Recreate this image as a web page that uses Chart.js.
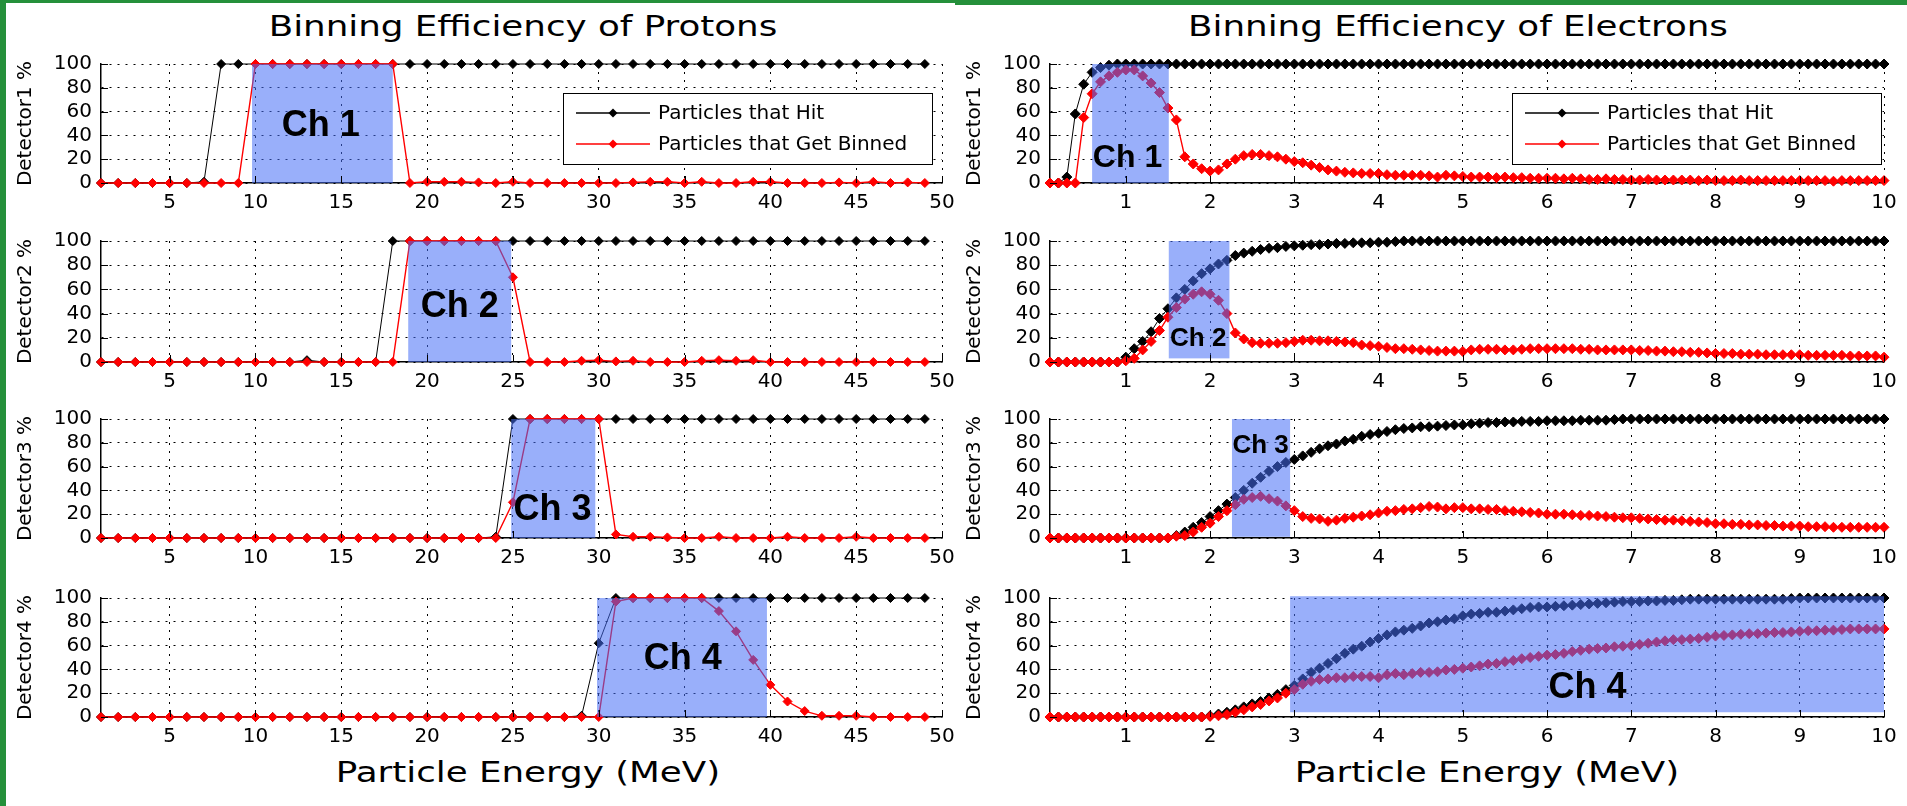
<!DOCTYPE html>
<html>
<head>
<meta charset="utf-8">
<script src="https://cdn.jsdelivr.net/npm/chart.js@4.4.1/dist/chart.umd.min.js"></script>
<style>
body { margin: 0; background: #fff; }
#page { position: relative; width: 1907px; height: 806px; overflow: hidden; background: #fff; font-family: "DejaVu Sans", sans-serif; }
.frame { position: absolute; background: #25903b; }
.big { position: absolute; width: 600px; font-size: 29px; line-height: 29px; white-space: nowrap; text-align: center; transform: scaleX(1.23); color: #000; }
canvas { position: absolute; }
</style>
</head>
<body>
<div id="page">
  <div class="frame" style="left:0;top:0;width:6px;height:806px"></div>
  <div class="frame" style="left:0;top:0;width:955px;height:3px"></div>
  <div class="frame" style="left:955px;top:0;width:952px;height:5px"></div>
  <div class="big" style="left:223px;top:12px">Binning Efficiency of Protons</div>
  <div class="big" style="left:1158px;top:12px">Binning Efficiency of Electrons</div>
  <div class="big" style="left:228px;top:758px">Particle Energy (MeV)</div>
  <div class="big" style="left:1187px;top:758px">Particle Energy (MeV)</div>
</div>
<script>
// proton energies (MeV)
const protonE = [1,2,3,4,5,6,7,8,9,10,11,12,13,14,15,16,17,18,19,20,21,22,23,24,25,
  26,27,28,29,30,31,32,33,34,35,36,37,38,39,40,41,42,43,44,45,46,47,48,49];
// electron energies (MeV)
const electronE = [0.1,0.2,0.3,0.4,0.5,0.6,0.7,0.8,0.9,1.0,1.1,1.2,1.3,1.4,1.5,1.6,1.7,1.8,1.9,2.0,
  2.1,2.2,2.3,2.4,2.5,2.6,2.7,2.8,2.9,3.0,3.1,3.2,3.3,3.4,3.5,3.6,3.7,3.8,3.9,4.0,
  4.1,4.2,4.3,4.4,4.5,4.6,4.7,4.8,4.9,5.0,5.1,5.2,5.3,5.4,5.5,5.6,5.7,5.8,5.9,6.0,
  6.1,6.2,6.3,6.4,6.5,6.6,6.7,6.8,6.9,7.0,7.1,7.2,7.3,7.4,7.5,7.6,7.7,7.8,7.9,8.0,
  8.1,8.2,8.3,8.4,8.5,8.6,8.7,8.8,8.9,9.0,9.1,9.2,9.3,9.4,9.5,9.6,9.7,9.8,9.9,10.0];

const protonTicks = [5,10,15,20,25,30,35,40,45,50];
const electronTicks = [1,2,3,4,5,6,7,8,9,10];
const percentTicks = [0,20,40,60,80,100];

// protons, % per detector
const p1Hit = [0,0,0,0,0,0,1,100,100,100,100,100,100,100,100,100,100,100,100,100,100,100,100,100,100,
  100,100,100,100,100,100,100,100,100,100,100,100,100,100,100,100,100,100,100,100,100,100,100,100];
const p1Binned = [0,0,0,0,0,0,0,0,0,100,100,100,100,100,100,100,100,100,0,1,1,1,0.5,0,1,
  0,0,0,0,0,0,0.5,1,1,0,1,0,0,1,1,0,0,0,0.5,0,1,0,0.5,0];
const p2Hit = [0,0,0,0,0,0,0,0,0,0,0,0,1.5,0,0,0,0,100,100,100,100,100,100,100,100,
  100,100,100,100,100,100,100,100,100,100,100,100,100,100,100,100,100,100,100,100,100,100,100,100];
const p2Binned = [0,0,0,0,0,0,0,0,0,0,0,0,0,0,0,0,0,0,100,100,100,100,100,100,70,
  0,0,0,1,1.5,0.5,1,0,0,0,1,1.5,1,1.5,0,0,0,0,0,0,0,0,0,0];
const p3Hit = [0,0,0,0,0,0,0,0,0,0,0,0,0,0,0,0,0,0,0,0,0,0,0,1,100,
  100,100,100,100,100,100,100,100,100,100,100,100,100,100,100,100,100,100,100,100,100,100,100,100];
const p3Binned = [0,0,0,0,0,0,0,0,0,0,0,0,0,0,0,0,0,0,0,0,0,0,0,0,30,
  100,100,100,100,100,3,1,1,0.5,0,0,1,0,0,0,1,0,0,0,1,0,0,0,0];
const p4Hit = [0,0,0,0,0,0,0,0,0,0,0,0,0,0,0,0,0,0,0,0,0,0,0,0,0,
  0,0,0,1,62,100,100,100,100,100,100,100,100,100,100,100,100,100,100,100,100,100,100,100];
const p4Binned = [0,0,0,0,0,0,0,0,0,0,0,0,0,0,0,0,0,0,0,0,0,0,0,0,0,
  0,0,0,0,0,97,100,100,100,100,100,89,72,48,27,13,5,1,1,1,0,0,0,0];

// electrons, % per detector
const e1Hit = [0,0,5,58,83,93,97,99,100,100,
  100,100,100,100,100,100,100,100,100,100, 100,100,100,100,100,100,100,100,100,100,
  100,100,100,100,100,100,100,100,100,100, 100,100,100,100,100,100,100,100,100,100,
  100,100,100,100,100,100,100,100,100,100, 100,100,100,100,100,100,100,100,100,100,
  100,100,100,100,100,100,100,100,100,100, 100,100,100,100,100,100,100,100,100,100,
  100,100,100,100,100,100,100,100,100,100];
const e1Binned = [0,0,0,0,55,75,85,90,93,95,
  95,90,84,76,63,53,22,16,12,10,
  11,16,20,23,24,24,23,22,20,18,
  17,15,13,11,10,9,8.5,8,8,8,
  7,6.5,6.5,6.5,6.5,6,5,6.5,6,5.5,
  5,5,5,4.5,5,4.5,4.5,4,4,4,
  4,3.5,4,3.5,3,3,3.5,3,3,2.5,
  2.5,3,2.5,2.5,2.5,2.5,2.5,2,2.5,2,
  2,2,2.5,2,2,2,2,2,2,2,
  2,2,2,1.5,2,2,2,2,2,2];
const e2Hit = [0,0,0,0,0,0,0,0,0,4,
  11,17,25,36,44,53,60,67,73,77,
  81,84,88,90,91.5,93,94,94.5,95.5,96,
  96.5,97,97,97.5,98,98,98.5,98.5,98.5,99,
  99,99.5,100,100,100,100,100,100,100,100,
  100,100,100,100,100,100,100,100,100,100, 100,100,100,100,100,100,100,100,100,100,
  100,100,100,100,100,100,100,100,100,100, 100,100,100,100,100,100,100,100,100,100,
  100,100,100,100,100,100,100,100,100,100];
const e2Binned = [0,0,0,0,0,0,0,0,0,1,
  3,10,17,26,37,45,52,56,58,56,
  51,40,24,19,16,15.5,15.5,15.5,16,17,
  18,18,17.5,17.5,17,16.5,16,14,13.5,13,
  12,11,11,10.5,10,9.5,9,9,9,8.7,
  10,10.5,10.5,10.5,10,10,10.5,11,11,11,
  11,11,11,10.5,10.5,10,10,10,10,10,
  9.5,9.5,9,9,8.5,8.5,8,8,7.5,7,
  7,7,6.5,6.5,6.5,6,6,6,6,6,
  5.5,5.5,5.5,5.5,5.5,5,5,5,5,4];
const e3Hit = [0,0,0,0,0,0,0,0,0,0,
  0,0,0,0,0,2,5,9,13,18,
  23,28.5,34,40,46,51,56,60,63.5,66,
  69,72,75,77.5,79,81.5,83,85.5,87,88,
  89.5,91,92,92.5,93.5,93.5,94,94.5,95,95,
  96,96.5,97,97,97.5,97.5,98,98,98,98.5,
  98.5,98.5,98.5,99,99,99,99,99.5,100,100,
  100,100,100,100,100,100,100,100,100,100, 100,100,100,100,100,100,100,100,100,100,
  100,100,100,100,100,100,100,100,100,100];
const e3Binned = [0,0,0,0,0,0,0,0,0,0,
  0,0,0,0,0,1.5,2,5,9,12.5,
  18,23,28,32.5,34,35,33,31,27,23,
  18,16.5,16,14,15,16.5,17.5,18.5,19.5,21,
  22.5,23,24,24.5,25.5,26.5,26,24.5,25.5,25.5,
  24.5,24.5,24,24,23,22.5,22,21.5,21,20,
  20,20,19.5,19,19,18.5,18,17.5,17,17,
  16.5,16,15.5,15,15,14.5,14,13.5,13,12,
  12,11.5,11.5,11,11,10.5,10.5,10,10,10,
  9.5,9.5,9.5,9,9,9,9,9,9,9];
const e4Hit = [0,0,0,0,0,0,0,0,0,0,
  0,0,0,0,0,0,0,0,0,1,
  2.5,4,6,8.5,11,13,16,19,23,26.5,
  32,37.5,41,45,49,53.5,57,59.5,63,66,
  69,71.5,73,74.5,76.5,79,80,81.5,82.5,85,
  86.5,87,88,88,89,90,91,92,92.5,92.5,
  93,93.5,94,94.5,95,95.5,96,96.5,97,97,
  97,97.5,97.5,98,98,98.5,99,99,99,99,
  99,99,99,99,99,99,99,99,99.5,100,
  100,100,100,100,100,100,100,100,100,100];
const e4Binned = [0,0,0,0,0,0,0,0,0,0,
  0,0,0,0,0,0,0,0,0,0.5,
  1,2,4,6,8.5,10.5,13.5,16,20,23,
  27.5,30,31.5,32,33,33,34,34,34,33,
  35.5,36.5,35.5,36.5,37.5,37.5,38,39.5,40,41,
  42,43,44.5,45,46.5,47.5,49,50,51,52,
  52.5,53.5,55,56,57,57.5,58,59,59.5,60,
  61,62,63,64,65,65,65.5,66,67,68,
  68.5,69,69.5,70,70,70.5,71,71,71.5,72,
  72.5,72.5,73,73,73.5,74,74,74,74,74];

// channel windows [E min, E max, % min, % max]
const protonChannels = [[9.8,18,0,100],[18.9,24.9,0,100],[24.9,29.8,0,100],[29.9,39.8,0,100]];
const electronChannels = [[0.6,1.51,0,100],[1.51,2.23,3,100],[2.26,2.95,1,100],[2.95,10,4,101.5]];
const channelNames = ['Ch 1','Ch 2','Ch 3','Ch 4'];

Chart.defaults.font.family = '"DejaVu Sans", sans-serif';
Chart.defaults.color = '#000';

// blue channel box, its name, inward ticks and the legend
const overlay = {
  id: 'overlay',
  afterDatasetsDraw(chart, args, o) {
    const {ctx, chartArea: a, scales: {x, y}} = chart;
    ctx.save();
    const b = o.box;
    const bx0 = x.getPixelForValue(b[0]), bx1 = x.getPixelForValue(b[1]);
    const by0 = y.getPixelForValue(b[2]), by1 = y.getPixelForValue(b[3]);
    ctx.fillStyle = 'rgba(70,110,245,0.55)';
    ctx.fillRect(bx0, by1, bx1 - bx0, by0 - by1);

    ctx.fillStyle = '#000';
    ctx.font = 'bold ' + o.size + 'px "Liberation Sans", Arial, sans-serif';
    ctx.textAlign = 'center';
    ctx.textBaseline = 'alphabetic';
    ctx.fillText(o.name, x.getPixelForValue(o.at[0]), y.getPixelForValue(o.at[1]) + o.size * 0.36);

    ctx.strokeStyle = '#000';
    ctx.lineWidth = 1;
    y.ticks.forEach(t => {
      const py = Math.round(y.getPixelForValue(t.value)) + 0.5;
      ctx.beginPath(); ctx.moveTo(a.left, py); ctx.lineTo(a.left + 7, py); ctx.stroke();
    });
    x.ticks.forEach(t => {
      const px = Math.round(x.getPixelForValue(t.value)) + 0.5;
      ctx.beginPath(); ctx.moveTo(px, a.bottom); ctx.lineTo(px, a.bottom - 7); ctx.stroke();
    });

    if (o.legend) {
      const lx = a.left + 462, ly = a.top + 29;
      ctx.fillStyle = '#fff';
      ctx.fillRect(lx, ly, 369, 71);
      ctx.strokeRect(lx + 0.5, ly + 0.5, 369, 71);
      const rows = [['#000', 'Particles that Hit', 20], ['#ff0000', 'Particles that Get Binned', 51]];
      ctx.font = '20px "DejaVu Sans", sans-serif';
      ctx.textAlign = 'left';
      ctx.textBaseline = 'middle';
      rows.forEach(r => {
        const ry = ly + r[2];
        ctx.strokeStyle = r[0]; ctx.fillStyle = r[0]; ctx.lineWidth = 1.3;
        ctx.beginPath(); ctx.moveTo(lx + 13, ry); ctx.lineTo(lx + 87, ry); ctx.stroke();
        ctx.beginPath();
        ctx.moveTo(lx + 50, ry - 4.5); ctx.lineTo(lx + 54.5, ry); ctx.lineTo(lx + 50, ry + 4.5); ctx.lineTo(lx + 45.5, ry);
        ctx.closePath(); ctx.fill();
        ctx.fillStyle = '#000';
        ctx.fillText(r[1], lx + 95, ry + 1);
      });
    }
    ctx.restore();
  }
};

const rowTop = [57, 234, 412, 591];
const rowBottom = [183, 362, 538, 717];
const page = document.getElementById('page');

function makePlot(p) {
  const top = rowTop[p.row] - 14;
  const height = rowBottom[p.row] + 32 - top;
  const width = p.plotRight + 22 - p.canvasLeft;
  const cv = document.createElement('canvas');
  cv.width = width; cv.height = height;
  cv.style.left = p.canvasLeft + 'px';
  cv.style.top = top + 'px';
  page.appendChild(cv);

  const line = (vals, color, w) => ({
    data: p.xs.map((x, i) => ({x: x, y: vals[i]})),
    borderColor: color, backgroundColor: color, borderWidth: w,
    pointStyle: 'rectRot', pointRadius: p.radius, pointBorderWidth: 1,
    pointBackgroundColor: color, pointBorderColor: color,
    tension: 0, clip: false
  });
  const tickFont = {family: '"DejaVu Sans", sans-serif', size: 20};

  new Chart(cv, {
    type: 'line',
    data: { datasets: [line(p.binned, '#ff0000', 1.4), line(p.hit, '#000000', 1)] },
    options: {
      responsive: false, animation: false, devicePixelRatio: 1,
      layout: { autoPadding: false, padding: { top: 14, right: 22, left: 0, bottom: 0 } },
      plugins: {
        legend: { display: false }, tooltip: { enabled: false },
        overlay: { box: p.box, name: p.name, at: p.at, size: p.size, legend: p.row === 0 }
      },
      scales: {
        x: {
          type: 'linear', min: p.xs === protonE ? 1 : 0.1, max: p.xTicks[p.xTicks.length - 1],
          afterBuildTicks: s => { s.ticks = p.xTicks.map(v => ({value: v})); },
          afterFit: s => { s.height = 32; },
          grid: { color: '#000', lineWidth: 1, drawTicks: false },
          border: { display: true, color: '#000', width: 1.5, dash: [2, 6] },
          ticks: { color: '#000', font: tickFont, padding: 8, maxRotation: 0, autoSkip: false }
        },
        y: {
          min: 0, max: 100,
          afterBuildTicks: s => { s.ticks = percentTicks.map(v => ({value: v})); },
          afterFit: s => { s.width = p.plotLeft - p.canvasLeft; },
          grid: { color: '#000', lineWidth: 1, drawTicks: false },
          border: { display: true, color: '#000', width: 1.5, dash: [2, 6] },
          ticks: { color: '#000', font: tickFont, padding: 9, autoSkip: false },
          title: { display: true, text: 'Detector' + (p.row + 1) + ' %', color: '#000',
                   font: {family: '"DejaVu Sans", sans-serif', size: 20}, padding: {top: 8, bottom: 0} }
        }
      }
    },
    plugins: [overlay]
  });
}

const protonHit = [p1Hit, p2Hit, p3Hit, p4Hit];
const protonBinned = [p1Binned, p2Binned, p3Binned, p4Binned];
const electronHit = [e1Hit, e2Hit, e3Hit, e4Hit];
const electronBinned = [e1Binned, e2Binned, e3Binned, e4Binned];
const protonLabelAt = [[13.8, 50], [21.9, 48], [27.3, 26], [34.9, 51]];
const electronLabelAt = [[1.02, 23], [1.86, 21], [2.6, 79], [6.48, 27]];
const electronLabelSize = [32, 26, 26, 36];

for (let r = 0; r < 4; r++) {
  makePlot({ row: r, xs: protonE, xTicks: protonTicks, hit: protonHit[r], binned: protonBinned[r],
    canvasLeft: 6, plotLeft: 101, plotRight: 942, radius: 4.5,
    box: protonChannels[r], name: channelNames[r], at: protonLabelAt[r], size: 36 });
  makePlot({ row: r, xs: electronE, xTicks: electronTicks, hit: electronHit[r], binned: electronBinned[r],
    canvasLeft: 955, plotLeft: 1050, plotRight: 1884, radius: 5,
    box: electronChannels[r], name: channelNames[r], at: electronLabelAt[r], size: electronLabelSize[r] });
}
</script>
</body>
</html>
